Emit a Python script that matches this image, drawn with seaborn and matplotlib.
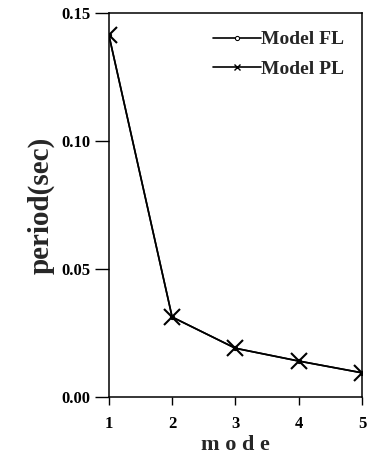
import numpy as np
import pandas as pd
import matplotlib.pyplot as plt
import seaborn as sns

# data
mode = [1, 2, 3, 4, 5]
period_fl = [0.1415, 0.0312, 0.0190, 0.0140, 0.0094]
period_pl = [0.1415, 0.0312, 0.0190, 0.0140, 0.0094]

sns.set_style("ticks")
plt.rcParams['font.family'] = ['Liberation Serif', 'DejaVu Serif']
plt.rcParams['font.weight'] = 'bold'

fig = plt.figure(figsize=(3.69, 4.73), dpi=100)
ax = fig.add_axes([0.295, 0.161, 0.686, 0.811])

sns.lineplot(x=mode, y=period_fl, ax=ax, color='black', lw=1.2, marker='o',
             markersize=3, markerfacecolor='white', markeredgecolor='black',
             label='Model FL')
sns.lineplot(x=mode, y=period_pl, ax=ax, color='black', lw=1.2, marker='x',
             markersize=12, markeredgewidth=1.5, markeredgecolor='black',
             label='Model PL')

ax.set_xlim(1, 5)
ax.set_ylim(0, 0.15)
ax.set_xticks(mode)
ax.set_yticks([0.0, 0.05, 0.10, 0.15])
ax.set_yticklabels(['0.00', '0.05', '0.10', '0.15'])
ax.tick_params(axis='y', direction='out', length=10, width=1, labelsize=12, colors='black', pad=3)
ax.tick_params(axis='x', direction='out', length=6, width=1, labelsize=12, colors='black', pad=8)
for s in ax.spines.values():
    s.set_linewidth(1.1)
    s.set_color('black')

ax.set_xlabel('m o d e', fontsize=16, fontweight='bold', labelpad=2)
ax.set_ylabel('period(sec)', fontsize=21, fontweight='bold', labelpad=5)

leg = ax.legend(loc='upper right', frameon=False, fontsize=14, handlelength=2.5,
                handletextpad=0.0, borderaxespad=0.5, labelspacing=0.6)
for t in leg.get_texts():
    t.set_fontweight('bold')
leg.legend_handles[0].set_markersize(3)
leg.legend_handles[1].set_markersize(5)
leg.legend_handles[1].set_markeredgewidth(1)

fig.savefig('out.png', dpi=100)
